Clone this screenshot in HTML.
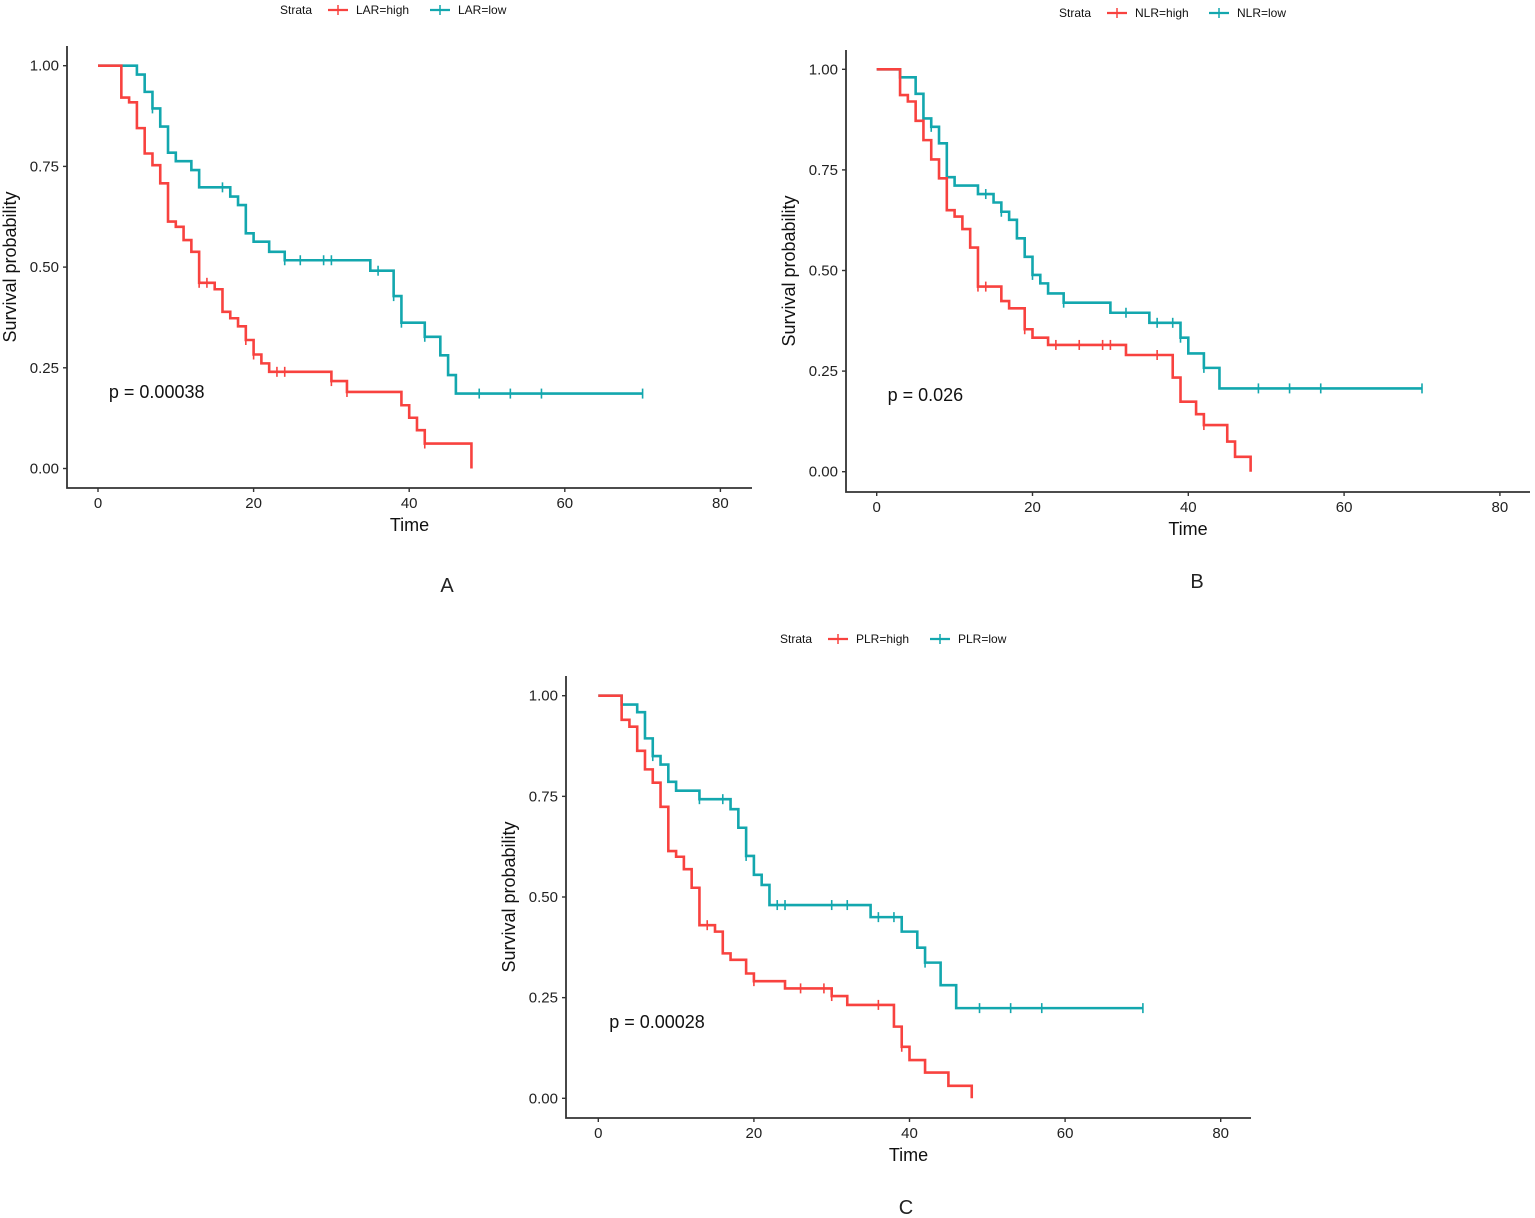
<!DOCTYPE html>
<html><head><meta charset="utf-8">
<style>
html,body{margin:0;padding:0;background:#fff;}
svg{display:block;font-family:"Liberation Sans",Arial,sans-serif;}
</style></head>
<body>
<svg id="chart" width="1535" height="1218" viewBox="0 0 1535 1218" xmlns="http://www.w3.org/2000/svg"></svg>
<script>
const xTicks = [0, 20, 40, 60, 80];
const yTicks = [0, 0.25, 0.5, 0.75, 1.0];
const yTickLabels = ["0.00", "0.25", "0.50", "0.75", "1.00"];

const aHighSteps = [[3,.921],[4,.909],[5,.845],[6,.782],[7,.753],[8,.708],[9,.613],[10,.600],[11,.567],[12,.538],[13,.461],[15,.445],[16,.389],[17,.373],[18,.353],[19,.319],[20,.283],[21,.261],[22,.240],[30,.217],[32,.190],[39,.157],[40,.126],[41,.095],[42,.062],[48,0]];
const aHighCens = [13,14,19,20,23,24,30,32,42];
const aLowSteps = [[5,.978],[6,.935],[7,.894],[8,.849],[9,.784],[10,.763],[12,.741],[13,.698],[17,.675],[18,.654],[19,.584],[20,.563],[22,.538],[24,.517],[35,.491],[38,.428],[39,.362],[42,.327],[44,.281],[45,.232],[46,.186]];
const aLowCens = [7,16,24,26,29,30,36,38,39,42,49,53,57,70];
const aLowEnd = 70;

const bHighSteps = [[3,.936],[4,.920],[5,.872],[6,.824],[7,.776],[8,.729],[9,.650],[10,.634],[11,.603],[12,.557],[13,.460],[16,.424],[17,.406],[19,.354],[20,.333],[22,.315],[32,.290],[38,.234],[39,.174],[41,.143],[42,.116],[45,.075],[46,.037],[48,0]];
const bHighCens = [13,14,19,23,26,29,30,36,42];
const bLowSteps = [[3,.980],[5,.939],[6,.878],[7,.857],[8,.816],[9,.732],[10,.711],[13,.690],[15,.669],[16,.646],[17,.626],[18,.580],[19,.534],[20,.489],[21,.468],[22,.443],[24,.420],[30,.395],[35,.370],[39,.333],[40,.294],[42,.258],[44,.207]];
const bLowCens = [7,14,16,20,24,32,36,38,39,42,49,53,57,70];
const bLowEnd = 70;

const cHighSteps = [[3,.940],[4,.923],[5,.863],[6,.817],[7,.784],[8,.724],[9,.614],[10,.600],[11,.569],[12,.523],[13,.430],[15,.414],[16,.360],[17,.344],[19,.310],[20,.291],[24,.273],[30,.254],[32,.232],[38,.178],[39,.128],[40,.095],[42,.064],[45,.031],[48,0]];
const cHighCens = [14,20,26,29,30,36,39];
const cLowSteps = [[3,.978],[5,.959],[6,.894],[7,.850],[8,.829],[9,.786],[10,.764],[13,.743],[17,.718],[18,.672],[19,.602],[20,.555],[21,.530],[22,.480],[35,.450],[39,.414],[41,.374],[42,.337],[44,.281],[46,.224]];
const cLowCens = [7,13,16,19,23,24,30,32,36,38,42,49,53,57,70];
const cLowEnd = 70;

const panels = [
 {id:"a", prefix:"LAR", p:"p = 0.00038", letter:"A", t0:98, k:7.78, s0:468.5, s1:65.7, ax:67, ay:488, top:46, right:752, legX:280, legY:14, letX:447, letY:592,
  high:aHighSteps, highC:aHighCens, highEnd:48, low:aLowSteps, lowC:aLowCens, lowEnd:aLowEnd},
 {id:"b", prefix:"NLR", p:"p = 0.026", letter:"B", t0:876.7, k:7.79, s0:471.7, s1:69.3, ax:846, ay:492, top:50, right:1530, legX:1059, legY:17, letX:1197, letY:588,
  high:bHighSteps, highC:bHighCens, highEnd:48, low:bLowSteps, lowC:bLowCens, lowEnd:bLowEnd},
 {id:"c", prefix:"PLR", p:"p = 0.00028", letter:"C", t0:598.3, k:7.78, s0:1098.3, s1:695.7, ax:566, ay:1118, top:676, right:1251, legX:780, legY:643, letX:906, letY:1214,
  high:cHighSteps, highC:cHighCens, highEnd:48, low:cLowSteps, lowC:cLowCens, lowEnd:cLowEnd}
];

const NS = "http://www.w3.org/2000/svg";
const svg = document.getElementById("chart");
function mk(tag, attrs, parent){ const e=document.createElementNS(NS,tag); for(const k in attrs) e.setAttribute(k,attrs[k]); (parent||svg).appendChild(e); return e; }
const RED="#F8423F", TEAL="#13A7AE", AXIS="#333";

function survAt(steps, t){ let s=1; for(const st of steps){ if(st[0]<=t) s=st[1]; } return s; }

panels.forEach(P=>{
  const g = mk("g",{});
  
  
  const X = t => P.t0 + t*P.k;
  const Y = s => P.s0 - s*(P.s0-P.s1);
  const axl = mk("path",{d:`M${P.ax},${P.top}V${P.ay}H${P.right}`,fill:"none",stroke:AXIS,"stroke-width":1.8},g);
  
  
  xTicks.forEach(v=>{
    mk("line",{x1:X(v),x2:X(v),y1:P.ay,y2:P.ay+4,stroke:AXIS,"stroke-width":1.4},g);
    const t = mk("text",{x:X(v),y:P.ay+20,"text-anchor":"middle","font-size":15,fill:"#222"},g);
    t.textContent=v;
    
    
  });
  yTicks.forEach((v,i)=>{
    mk("line",{x1:P.ax-4,x2:P.ax,y1:Y(v),y2:Y(v),stroke:AXIS,"stroke-width":1.4},g);
    const t = mk("text",{x:P.ax-8,y:Y(v)+5,"text-anchor":"end","font-size":15,fill:"#222"},g);
    t.textContent=yTickLabels[i];
    
    
  });
  const xt = mk("text",{x:(P.ax+P.right)/2,y:P.ay+43,"text-anchor":"middle","font-size":18,fill:"#111"},g);
  xt.textContent="Time";
  
  
  const yc=(P.top+P.ay)/2, yx=P.ax-51;
  const yt = mk("text",{x:yx,y:yc,"text-anchor":"middle","font-size":18,fill:"#111",transform:`rotate(-90 ${yx} ${yc})`},g);
  yt.textContent="Survival probability";
  
  
  const pt = mk("text",{x:X(1.4),y:Y(0.19)+6,"font-size":18,fill:"#111"},g);
  pt.textContent=P.p;
  
  
  const lt = mk("text",{x:P.letX,y:P.letY,"text-anchor":"middle","font-size":20,fill:"#222"},g);
  lt.textContent=P.letter;
  
  
  const lg = mk("g",{},g);
  
  
  const st = mk("text",{x:P.legX,y:P.legY,"font-size":12,fill:"#111"},lg);
  st.textContent="Strata";
  const entries=[[RED,P.prefix+"=high",P.legX+48],[TEAL,P.prefix+"=low",P.legX+150]];
  entries.forEach(e=>{
    const eg = mk("g",{},lg);
    
    
    mk("line",{x1:e[2],x2:e[2]+20,y1:P.legY-4,y2:P.legY-4,stroke:e[0],"stroke-width":2.2},eg);
    mk("line",{x1:e[2]+10,x2:e[2]+10,y1:P.legY-9,y2:P.legY+1,stroke:e[0],"stroke-width":1.5},eg);
    const tx = mk("text",{x:e[2]+28,y:P.legY,"font-size":12,fill:"#111"},eg);
    tx.textContent=e[1];
  });
  function curve(steps, cens, end, color, name){
    let d=`M${X(0)},${Y(1)}`;
    steps.forEach(st=>{ d+=`H${X(st[0])}V${Y(st[1])}`; });
    if(X(end) > X(steps[steps.length-1][0])) d+=`H${X(end)}`;
    const p = mk("path",{d:d,fill:"none",stroke:color,"stroke-width":2.6},g);
    
    
    cens.forEach(c=>{
      const sv = survAt(steps,c);
      const m = mk("line",{x1:X(c),x2:X(c),y1:Y(sv)-5,y2:Y(sv)+5,stroke:color,"stroke-width":1.6},g);
      
      
    });
  }
  curve(P.low, P.lowC, P.lowEnd, TEAL, P.prefix.toLowerCase()+'-low');
  curve(P.high, P.highC, P.highEnd, RED, P.prefix.toLowerCase()+'-high');
});
</script>
</body></html>
